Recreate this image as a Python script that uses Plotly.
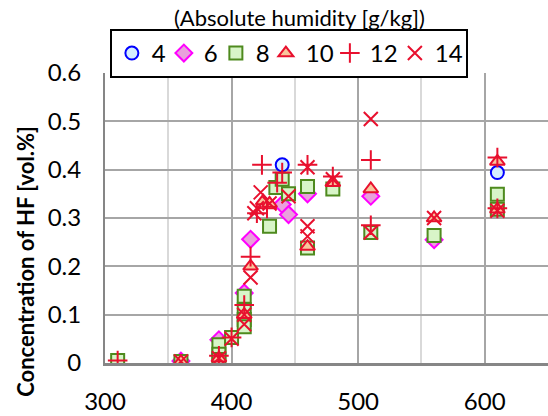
import plotly.graph_objects as go

# x: temperature-like axis values, y: HF concentration [vol.%]
h4_x = [390, 410, 440, 610]
h4_y = [0.02, 0.12, 0.41, 0.394]

h6_x = [360, 390, 410, 415, 440, 445, 460, 510, 560]
h6_y = [0.004, 0.048, 0.145, 0.256, 0.328, 0.307, 0.35, 0.345, 0.255]

h8_x = [310, 360, 390, 390, 390, 400, 410, 410, 410, 410, 430, 435, 440, 445, 460, 460, 480, 510, 560, 610, 610]
h8_y = [0.005, 0.003, 0.038, 0.018, 0.007, 0.053, 0.138, 0.11, 0.09, 0.075, 0.283, 0.363, 0.38, 0.35,
        0.365, 0.238, 0.36, 0.27, 0.264, 0.349, 0.318]

h10_x = [360, 390, 410, 415, 425, 430, 460, 480, 510, 560, 610, 610]
h10_y = [0.003, 0.01, 0.1, 0.2, 0.335, 0.33, 0.241, 0.373, 0.36, 0.30, 0.417, 0.318]

h12_x = [310, 390, 400, 410, 415, 420, 424, 428, 436, 440, 460, 480, 510, 510, 610, 610]
h12_y = [0.005, 0.015, 0.053, 0.12, 0.22, 0.31, 0.41, 0.32, 0.373, 0.394, 0.41, 0.386, 0.42, 0.285, 0.425, 0.32]

h14_x = [360, 390, 400, 410, 410, 415, 418, 420, 423, 430, 445, 460, 460, 460, 480, 510, 510, 560, 610]
h14_y = [0.003, 0.01, 0.05, 0.08, 0.1, 0.177, 0.31, 0.32, 0.353, 0.33, 0.345, 0.405, 0.283, 0.262, 0.38,
         0.505, 0.27, 0.30, 0.315]

series = [
    ("4", h4_x, h4_y, "circle", "#0000FF", "#D5EEFF", 7),
    ("6", h6_x, h6_y, "diamond", "#FF00FF", "#E9A0DC", 7),
    ("8", h8_x, h8_y, "square", "#4E8A1E", "#D8F5C8", 5),
    ("10", h10_x, h10_y, "triangle-up", "#E8102E", "#F9C59C", 19),
    ("12", h12_x, h12_y, "cross-thin", "#E8102E", "#E8102E", 20),
    ("14", h14_x, h14_y, "x-thin", "#E8102E", "#E8102E", 26),
]

fig = go.Figure()
for name, xs, ys, sym, line_c, fill_c, lw in series:
    size = 14 if sym in ("cross-thin", "x-thin") else 13
    fig.add_trace(go.Scatter(x=xs, y=ys, mode="markers", name=name, legendwidth=lw,
                             marker={"symbol": sym, "size": size, "color": fill_c,
                                     "line": {"color": line_c, "width": 2}}))

font = "Lato, 'Open Sans', sans-serif"
fig.update_layout(
    width=548, height=416,
    margin={"l": 105, "r": 0, "t": 73, "b": 53},
    plot_bgcolor="white", paper_bgcolor="white",
    font={"family": font, "size": 24, "color": "black"},
    showlegend=True,
    legend={"orientation": "h", "x": 0.011, "y": 1.152, "xanchor": "left", "yanchor": "top",
            "bgcolor": "white", "bordercolor": "black", "borderwidth": 2,
            "font": {"size": 24}, "itemwidth": 30},
    xaxis={"range": [300, 650], "dtick": 100, "tick0": 300, "showgrid": True,
           "gridcolor": "#A6A6A6", "gridwidth": 1.5,
           "minor": {"dtick": 50, "showgrid": True, "gridcolor": "#D9D9D9", "gridwidth": 1.5},
           "showline": True, "linecolor": "#868686", "linewidth": 3,
           "zeroline": False, "ticks": "", "ticklabelstandoff": 15},
    yaxis={"range": [0, 0.6], "dtick": 0.1, "showgrid": True,
           "gridcolor": "#A6A6A6", "gridwidth": 1.5,
           "showline": True, "linecolor": "#868686", "linewidth": 2,
           "zeroline": False, "ticks": "", "ticklabelstandoff": 17},
    annotations=[
        {"text": "(Absolute humidity [g/kg])", "xref": "paper", "yref": "paper",
         "x": 0.44, "y": 1.19, "xanchor": "center", "yanchor": "middle",
         "showarrow": False, "font": {"size": 22}},
        {"text": "<b>Concentration of HF [vol.%]</b>", "xref": "paper", "yref": "paper",
         "x": -0.18, "y": 0.35, "xanchor": "center", "yanchor": "middle",
         "textangle": -90, "showarrow": False, "font": {"size": 22}},
    ],
)

fig.write_html("out.html", config={"displayModeBar": False},
               post_script="document.body.style.margin='0';")
